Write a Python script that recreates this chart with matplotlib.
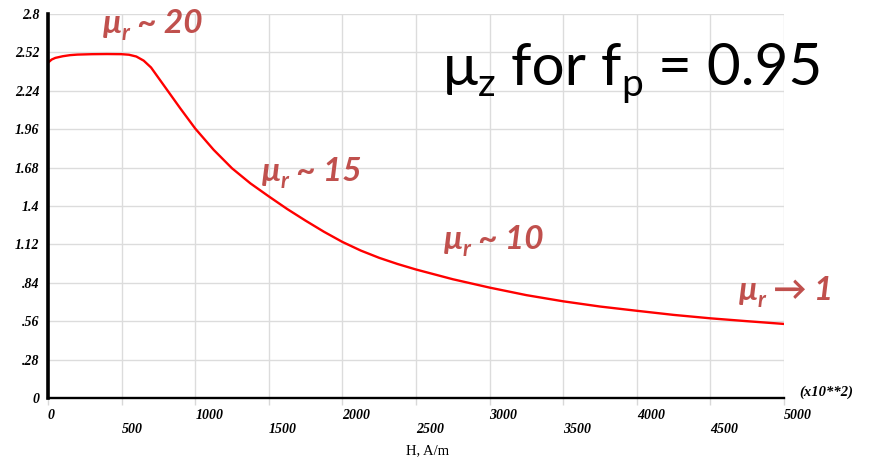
import matplotlib
matplotlib.use("Agg")
import matplotlib.pyplot as plt

# Magnetization curve data: field H (A/m, x10^2 on axis) vs. effective permeability value
h_values = [0, 25, 50, 100, 150, 200, 300, 400, 500, 550, 600, 650, 700, 750, 800,
            900, 1000, 1125, 1250, 1375, 1500, 1625, 1750, 1875, 2000, 2125, 2250,
            2375, 2500, 2750, 3000, 3250, 3500, 3750, 4000, 4250, 4500, 4750, 5000]
mu_values = [2.445, 2.468, 2.48, 2.492, 2.50, 2.504, 2.507, 2.508, 2.507, 2.503,
             2.49, 2.46, 2.41, 2.335, 2.26, 2.11, 1.965, 1.81, 1.675, 1.565, 1.47,
             1.378, 1.293, 1.212, 1.138, 1.075, 1.022, 0.977, 0.937, 0.866, 0.805,
             0.75, 0.705, 0.667, 0.636, 0.606, 0.581, 0.56, 0.54]

x_ticks = [0, 500, 1000, 1500, 2000, 2500, 3000, 3500, 4000, 4500, 5000]
x_tick_labels = [str(v) for v in x_ticks]
y_ticks = [0, 0.28, 0.56, 0.84, 1.12, 1.4, 1.68, 1.96, 2.24, 2.52, 2.8]
y_tick_labels = ["0", ".28", ".56", ".84", "1.12", "1.4", "1.68", "1.96", "2.24", "2.52", "2.8"]

W, H = 874, 458
fig = plt.figure(figsize=(W / 100, H / 100), dpi=100)
ax = fig.add_axes([48 / W, 1 - 398 / H, 736 / W, 384 / H])

ax.plot(h_values, mu_values, color="#ff0000", lw=1.7, solid_joinstyle="round",
        solid_capstyle="round", zorder=3)

ax.set_xlim(0, 5000)
ax.set_ylim(0, 2.8)
ax.set_xticks(x_ticks)
ax.set_yticks(y_ticks)

tick_font = dict(family="Liberation Serif", weight="bold", style="italic", size=10)
ax.set_xticklabels(x_tick_labels, **tick_font)
ax.set_yticklabels(y_tick_labels, **tick_font)
for lbl in ax.get_xticklabels():
    lbl.set_ha("left")
for i, tick in enumerate(ax.xaxis.get_major_ticks()):
    tick.set_pad(3 if i % 2 == 0 else 13)
ax.tick_params(axis="x", length=5, color="#d8d8d8", width=1)
ax.tick_params(axis="y", length=0, pad=6)

ax.grid(True, color="#dcdcdc", lw=1.0, zorder=0)
ax.set_axisbelow(True)
for side in ("top", "right"):
    ax.spines[side].set_visible(False)
ax.spines["left"].set_linewidth(2.6)
ax.spines["bottom"].set_linewidth(1.7)
ax.spines["left"].set_zorder(4)
ax.spines["bottom"].set_zorder(4)

fig.text(799 / W, 1 - 392 / H, "(x10**2)", ha="left", va="center",
         family="Liberation Serif", weight="bold", style="italic", size=10.5)
fig.text(428 / W, 1 - 451 / H, "H, A/m", ha="center", va="center",
         family="Liberation Serif", size=10.5)

renderer = fig.canvas.get_renderer()
ann_family = ["Lato", "Open Sans", "DejaVu Sans"]


def rich_text(x_px, baseline_px, parts, color, weight, style):
    """Write a run of text pieces left to right; each piece is (text, size, drop_px)."""
    x = x_px
    for text, size, drop in parts:
        t = fig.text(x / W, 1 - (baseline_px + drop) / H, text, ha="left",
                     va="baseline", color=color, size=size, weight=weight,
                     style=style, family=ann_family)
        bb = t.get_window_extent(renderer)
        x += bb.width


ann_color = "#c0504d"
big, small = 24, 16
rich_text(103, 33, [("μ", big, 0), ("r", small, 7), (" ~ 20", big, 0)],
          ann_color, "bold", "italic")
rich_text(262, 181, [("μ", big, 0), ("r", small, 7), (" ~ 15", big, 0)],
          ann_color, "bold", "italic")
rich_text(444, 249, [("μ", big, 0), ("r", small, 7), (" ~ 10", big, 0)],
          ann_color, "bold", "italic")
rich_text(739, 300, [("μ", big, 0), ("r", small, 7), (" → 1", big, 0)],
          ann_color, "bold", "italic")

rich_text(443, 85, [("μ", 42, 0), ("z", 28, 11), (" for f", 42, 0), ("p", 28, 11),
                    (" = 0.95", 42, 0)], "black", "normal", "normal")

fig.savefig("out.png", dpi=100)
